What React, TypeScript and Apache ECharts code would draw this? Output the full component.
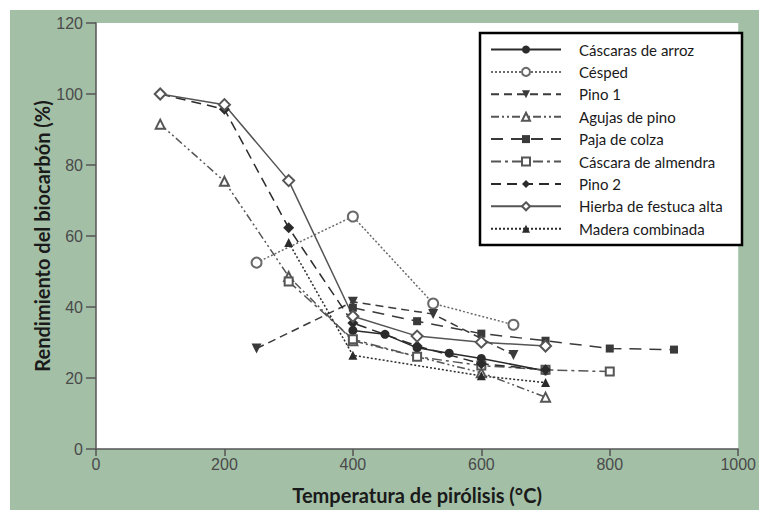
import React, { useEffect, useRef } from "react";
import * as echarts from "echarts";

const xTicks = [0, 200, 400, 600, 800, 1000];
const yTicks = [0, 20, 40, 60, 80, 100, 120];

const seriesNames = [
  "Cáscaras de arroz",
  "Césped",
  "Pino 1",
  "Agujas de pino",
  "Paja de colza",
  "Cáscara de almendra",
  "Pino 2",
  "Hierba de festuca alta",
  "Madera combinada",
];

const cascarasArroz: [number, number][] = [[400, 33.4], [450, 32.3], [500, 28.5], [550, 27], [600, 25.5], [700, 22]];
const cesped: [number, number][] = [[250, 52.5], [400, 65.5], [525, 41], [650, 35]];
const pino1: [number, number][] = [[250, 28.3], [400, 41.5], [525, 38], [650, 26.5]];
const agujasPino: [number, number][] = [[100, 91.5], [200, 75.4], [300, 48.6], [400, 30.5], [600, 21.5], [700, 14.6]];
const pajaColza: [number, number][] = [[400, 39.8], [500, 36], [600, 32.5], [700, 30.5], [800, 28.3], [900, 28]];
const cascaraAlmendra: [number, number][] = [[300, 47.2], [400, 30.9], [500, 26], [600, 23.5], [700, 22.3], [800, 21.8]];
const pino2: [number, number][] = [[100, 100], [200, 95.7], [300, 62.3], [400, 35.5], [500, 29], [600, 24], [700, 22.3]];
const hierbaFestuca: [number, number][] = [[100, 100], [200, 97], [300, 75.6], [400, 37.4], [500, 31.8], [600, 30.1], [700, 29]];
const maderaCombinada: [number, number][] = [[300, 58.2], [400, 26.4], [600, 20.6], [700, 18.7]];

const seriesData = [
  cascarasArroz, cesped, pino1, agujasPino, pajaColza, cascaraAlmendra, pino2, hierbaFestuca, maderaCombinada,
];

const styles: { symbol: string; rotate?: number; dash: any; size: number; color: string }[] = [
  { symbol: "circle", dash: "solid", size: 9, color: "#2b2b2b" },
  { symbol: "emptyCircle", dash: [2, 2], size: 10, color: "#6a6a6a" },
  { symbol: "triangle", rotate: 180, dash: [8, 5], size: 10, color: "#3a3a3a" },
  { symbol: "emptyTriangle", dash: [8, 3, 2, 3, 2, 3], size: 9, color: "#555555" },
  { symbol: "rect", dash: [12, 8], size: 8, color: "#3a3a3a" },
  { symbol: "emptyRect", dash: [10, 4, 3, 4], size: 8, color: "#555555" },
  { symbol: "diamond", dash: [10, 6], size: 11, color: "#2b2b2b" },
  { symbol: "emptyDiamond", dash: "solid", size: 11, color: "#555555" },
  { symbol: "triangle", dash: [2, 2], size: 9, color: "#2b2b2b" },
];

export default function App() {
  const ref = useRef<HTMLDivElement>(null);
  useEffect(() => {
    document.body.style.margin = "0";
    const chart = echarts.init(ref.current!, null, { renderer: "svg" });
    chart.setOption({
      animation: false,
      grid: {
        left: 96,
        top: 23,
        right: 18,
        bottom: 58,
        show: true,
        backgroundColor: "#ffffff",
        borderWidth: 0,
      },
      xAxis: {
        type: "value",
        min: 0,
        max: 1000,
        interval: 200,
        name: "Temperatura de pirólisis (°C)",
        nameLocation: "middle",
        nameGap: 36,
        nameTextStyle: { fontFamily: "Lato", fontWeight: "bold", fontSize: 20, color: "#1a1a1a" },
        axisLine: { show: true, lineStyle: { color: "#555", width: 1.5 } },
        axisTick: { show: true, length: 7, lineStyle: { color: "#555", width: 1.5 } },
        axisLabel: {
          fontFamily: "Liberation Sans",
          fontSize: 16,
          color: "#4a4a4a",
          margin: 7,
          formatter: (v: number) => (xTicks.includes(v) ? String(v) : ""),
        },
        splitLine: { show: false },
      },
      yAxis: {
        type: "value",
        min: 0,
        max: 120,
        interval: 20,
        name: "Rendimiento del biocarbón (%)",
        nameLocation: "middle",
        nameGap: 44,
        nameMoveOverlap: false,
        nameTextStyle: { fontFamily: "Lato", fontWeight: "bold", fontSize: 20, color: "#1a1a1a" },
        axisLine: { show: true, lineStyle: { color: "#555", width: 1.5 } },
        axisTick: { show: true, length: 10, lineStyle: { color: "#555", width: 1.5 } },
        axisLabel: {
          fontFamily: "Liberation Sans",
          fontSize: 16,
          color: "#4a4a4a",
          margin: 13,
          formatter: (v: number) => (yTicks.includes(v) ? String(v) : ""),
        },
        splitLine: { show: false },
      },
      graphic: [
        {
          type: "rect",
          z: 3,
          shape: { x: 480, y: 33, width: 262, height: 212 },
          style: { fill: "#ffffff", stroke: "#000000", lineWidth: 2.5 },
        },
      ],
      legend: {
        orient: "vertical",
        left: 480,
        top: 33,
        padding: [9, 10, 9, 10],
        itemWidth: 70,
        itemHeight: 10,
        itemGap: 7.4,
        z: 10,
        textStyle: {
          fontFamily: "Lato",
          fontSize: 15,
          color: "#1a1a1a",
          lineHeight: 14,
          padding: [0, 0, 0, 13],
        },
        data: seriesNames,
      },
      series: seriesNames.map((name, i) => ({
        name,
        type: "line",
        data: seriesData[i],
        symbol: styles[i].symbol,
        symbolRotate: styles[i].rotate || 0,
        symbolSize: styles[i].size,
        showAllSymbol: true,
        lineStyle: { color: styles[i].color, width: 1.5, type: styles[i].dash },
        itemStyle: { color: styles[i].color, borderWidth: 1.5 },
        emphasis: { disabled: true },
      })),
    });
    return () => chart.dispose();
  }, []);
  return (
    <div style={{ position: "relative", width: 759, height: 510, background: "#ffffff" }}>
      <div
        style={{ position: "absolute", left: 10, top: 10, width: 749, height: 500, background: "#a3c0a7" }}
      />
      <div ref={ref} style={{ position: "absolute", left: 0, top: 0, width: 759, height: 510 }} />
    </div>
  );
}
